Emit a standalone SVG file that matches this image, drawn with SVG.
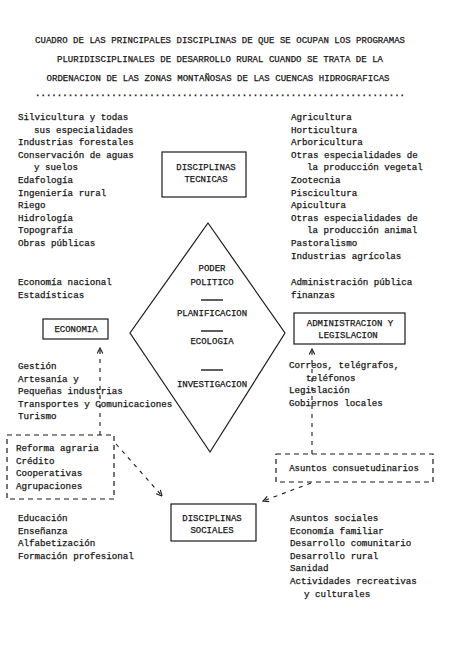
<svg xmlns="http://www.w3.org/2000/svg" width="464" height="650" viewBox="0 0 464 650">
<style>
text{font-family:"Liberation Mono","DejaVu Sans Mono",monospace;fill:#161616;stroke:#161616;stroke-width:0.25}
.t{font-size:9px}
.b{font-size:9.2px}
.c{text-anchor:middle;font-size:9px}
.box{fill:none;stroke:#1a1a1a;stroke-width:1.2}
.dbox{fill:none;stroke:#1a1a1a;stroke-width:1.2;stroke-dasharray:5 4}
.dl{fill:none;stroke:#1a1a1a;stroke-width:1.1;stroke-dasharray:4 5}
.sep{stroke:#1a1a1a;stroke-width:1.4}
</style>
<defs>
<marker id="ah" viewBox="0 0 10 10" refX="9" refY="5" markerWidth="7" markerHeight="7" markerUnits="userSpaceOnUse" orient="auto">
<path d="M1,1 L9,5 L1,9" fill="none" stroke="#1a1a1a" stroke-width="1.6" stroke-dasharray="none"/>
</marker>
</defs>
<rect width="464" height="650" fill="#ffffff"/>
<g id="title">
<text class="t" x="220" y="43" text-anchor="middle" textLength="370">CUADRO DE LAS PRINCIPALES DISCIPLINAS DE QUE SE OCUPAN LOS PROGRAMAS</text>
<text class="t" x="220" y="62" text-anchor="middle" textLength="326">PLURIDISCIPLINALES DE DESARROLLO RURAL CUANDO SE TRATA DE LA</text>
<text class="t" x="218" y="81" text-anchor="middle" textLength="343">ORDENACION DE LAS ZONAS MONTAÑOSAS DE LAS CUENCAS HIDROGRAFICAS</text>
<text class="t" x="220" y="96" text-anchor="middle" font-weight="bold" stroke-width="0.8" textLength="370">....................................................................</text>
</g>
<g id="connectors">
<line class="dl" x1="100" y1="435" x2="100" y2="348" marker-end="url(#ah)"/>
<line class="dl" x1="116" y1="444" x2="162" y2="496" marker-end="url(#ah)"/>
<line class="dl" x1="312" y1="454" x2="312" y2="349" marker-end="url(#ah)"/>
<line class="dl" x1="311" y1="483" x2="263" y2="501" marker-end="url(#ah)"/>
</g>
<g id="tecnicas-list-left">
<text class="b" x="18" y="120">Silvicultura y todas</text>
<text class="b" x="34" y="132.6">sus especialidades</text>
<text class="b" x="18" y="145.2">Industrias forestales</text>
<text class="b" x="18" y="157.8">Conservación de aguas</text>
<text class="b" x="34" y="170.4">y suelos</text>
<text class="b" x="18" y="183">Edafología</text>
<text class="b" x="18" y="195.6">Ingeniería rural</text>
<text class="b" x="18" y="208.2">Riego</text>
<text class="b" x="18" y="220.8">Hidrología</text>
<text class="b" x="18" y="233.4">Topografía</text>
<text class="b" x="18" y="246">Obras públicas</text>
</g>
<g id="tecnicas-list-right">
<text class="b" x="291" y="120">Agricultura</text>
<text class="b" x="291" y="132.6">Horticultura</text>
<text class="b" x="291" y="145.2">Arboricultura</text>
<text class="b" x="291" y="157.8">Otras especialidades de</text>
<text class="b" x="307" y="170.4">la producción vegetal</text>
<text class="b" x="291" y="183">Zootecnia</text>
<text class="b" x="291" y="195.6">Piscicultura</text>
<text class="b" x="291" y="208.2">Apicultura</text>
<text class="b" x="291" y="220.8">Otras especialidades de</text>
<text class="b" x="307" y="233.4">la producción animal</text>
<text class="b" x="291" y="246">Pastoralismo</text>
<text class="b" x="291" y="258.6">Industrias agrícolas</text>
</g>
<g id="disciplinas-tecnicas">
<rect class="box" x="162" y="152" width="84" height="45"/>
<text class="c" x="206" y="170">DISCIPLINAS</text>
<text class="c" x="206" y="182">TECNICAS</text>
</g>
<g id="centro">
<polygon class="box" points="208,223 285,333 210,452 130,333"/>
<text class="c" x="212" y="271">PODER</text>
<text class="c" x="212" y="285">POLITICO</text>
<line class="sep" x1="201" y1="300" x2="223" y2="300"/>
<text class="c" x="212" y="316">PLANIFICACION</text>
<line class="sep" x1="201" y1="331" x2="223" y2="331"/>
<text class="c" x="212" y="344">ECOLOGIA</text>
<line class="sep" x1="201" y1="370" x2="223" y2="370"/>
<text class="c" x="212" y="387">INVESTIGACION</text>
</g>
<g id="economia-list-top">
<text class="b" x="18" y="285">Economía nacional</text>
<text class="b" x="18" y="297.6">Estadísticas</text>
</g>
<g id="economia">
<rect class="box" x="43" y="319" width="65" height="20"/>
<text class="c" x="76" y="332">ECONOMIA</text>
</g>
<g id="economia-list-bottom">
<text class="b" x="18" y="369">Gestión</text>
<text class="b" x="18" y="381.6">Artesanía y</text>
<text class="b" x="18" y="394.2">Pequeñas industrias</text>
<text class="b" x="18" y="406.8">Transportes y Comunicaciones</text>
<text class="b" x="18" y="419.4">Turismo</text>
</g>
<g id="administracion-list-top">
<text class="b" x="291" y="285">Administración pública</text>
<text class="b" x="291" y="297.6">finanzas</text>
</g>
<g id="administracion">
<rect class="box" x="294" y="313" width="111" height="31"/>
<text class="c" x="350" y="326">ADMINISTRACION Y</text>
<text class="c" x="348" y="338">LEGISLACION</text>
</g>
<g id="administracion-list-bottom">
<text class="b" x="289" y="368">Correos, telégrafos,</text>
<text class="b" x="306" y="380.6">teléfonos</text>
<text class="b" x="289" y="393.2">Legislación</text>
<text class="b" x="289" y="405.8">Gobiernos locales</text>
</g>
<g id="reforma">
<rect class="dbox" x="7" y="435" width="107" height="64"/>
<text class="b" x="16" y="451">Reforma agraria</text>
<text class="b" x="16" y="463.6">Crédito</text>
<text class="b" x="16" y="476.2">Cooperativas</text>
<text class="b" x="16" y="488.8">Agrupaciones</text>
</g>
<g id="asuntos-consuetudinarios">
<rect class="dbox" x="276" y="454" width="157" height="28"/>
<text class="c" x="354" y="471">Asuntos consuetudinarios</text>
</g>
<g id="disciplinas-sociales">
<rect class="box" x="171" y="504" width="85" height="37"/>
<text class="c" x="212" y="521">DISCIPLINAS</text>
<text class="c" x="212" y="533">SOCIALES</text>
</g>
<g id="sociales-list-left">
<text class="b" x="18" y="521">Educación</text>
<text class="b" x="18" y="533.6">Enseñanza</text>
<text class="b" x="18" y="546.2">Alfabetización</text>
<text class="b" x="18" y="558.8">Formación profesional</text>
</g>
<g id="sociales-list-right">
<text class="b" x="290" y="521">Asuntos sociales</text>
<text class="b" x="290" y="533.6">Economía familiar</text>
<text class="b" x="290" y="546.2">Desarrollo comunitario</text>
<text class="b" x="290" y="558.8">Desarrollo rural</text>
<text class="b" x="290" y="571.4">Sanidad</text>
<text class="b" x="290" y="584">Actividades recreativas</text>
<text class="b" x="304" y="596.6">y culturales</text>
</g>
</svg>
